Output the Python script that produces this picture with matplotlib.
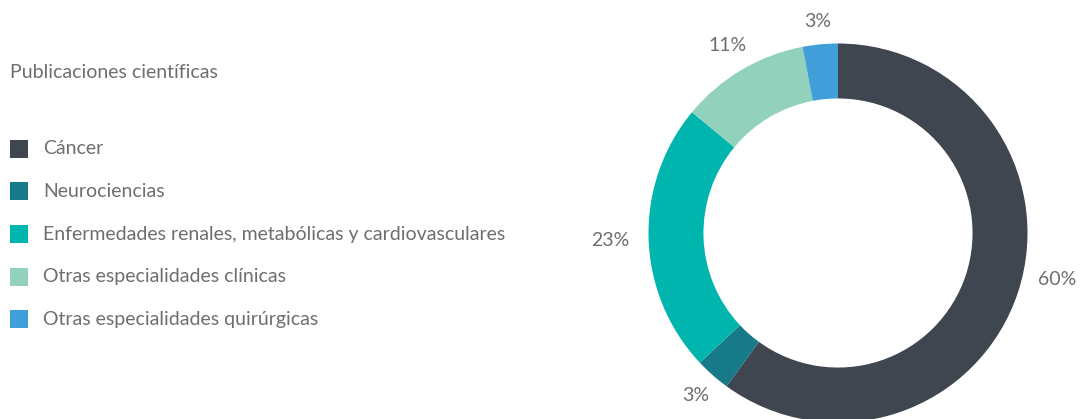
import matplotlib
matplotlib.use('Agg')
import matplotlib.pyplot as plt
from matplotlib.patches import Rectangle
import numpy as np

categorias = ['Cáncer', 'Neurociencias',
              'Enfermedades renales, metabólicas y cardiovasculares',
              'Otras especialidades clínicas',
              'Otras especialidades quirúrgicas']
porcentajes = [60, 3, 23, 11, 3]
colores = ['#3f464f', '#167a88', '#00b5ad', '#92d1bc', '#409fd9']

plt.rcParams['font.family'] = ['Lato', 'DejaVu Sans']
gris = '#6e6e6e'

W, H = 1081, 419
fig = plt.figure(figsize=(W / 100, H / 100), dpi=100)

# donut: center (838, 233) px, outer radius ~189 px
lim = 1.3
R = 189.5
S = 2 * lim * R
cx, cy = 838, H - 233
ax = fig.add_axes([(cx - S / 2) / W, (cy - S / 2) / H, S / W, S / H])
wedges, _ = ax.pie(porcentajes, colors=colores, startangle=90, counterclock=False,
                   radius=1, wedgeprops=dict(width=0.29, linewidth=0))
ax.set_xlim(-lim, lim)
ax.set_ylim(-lim, lim)
ax.set_aspect('equal')
ax.axis('off')

# percentage labels just outside the ring
dist = [1.18, 1.14, 1.2, 1.15, 1.12]
ajuste = [6, 0, 0, 0, 0]
for w, p, d, a in zip(wedges, porcentajes, dist, ajuste):
    ang = np.deg2rad((w.theta1 + w.theta2) / 2 + a)
    ax.text(d * np.cos(ang), d * np.sin(ang), f'{p}%', ha='center', va='center',
            fontsize=14, color=gris)

fig.text(10 / W, 1 - 72 / H, 'Publicaciones científicas', ha='left', va='center',
         fontsize=14, color=gris)

# legend rows
y0, paso = 149, 42.5
for i, (c, col) in enumerate(zip(categorias, colores)):
    y = y0 + i * paso
    fig.add_artist(Rectangle((10 / W, 1 - (y + 9) / H), 18 / W, 18 / H,
                             transform=fig.transFigure, facecolor=col, edgecolor='none'))
    fig.text(43 / W, 1 - y / H, c, ha='left', va='center', fontsize=14, color=gris)

fig.savefig('out.png', dpi=100)
